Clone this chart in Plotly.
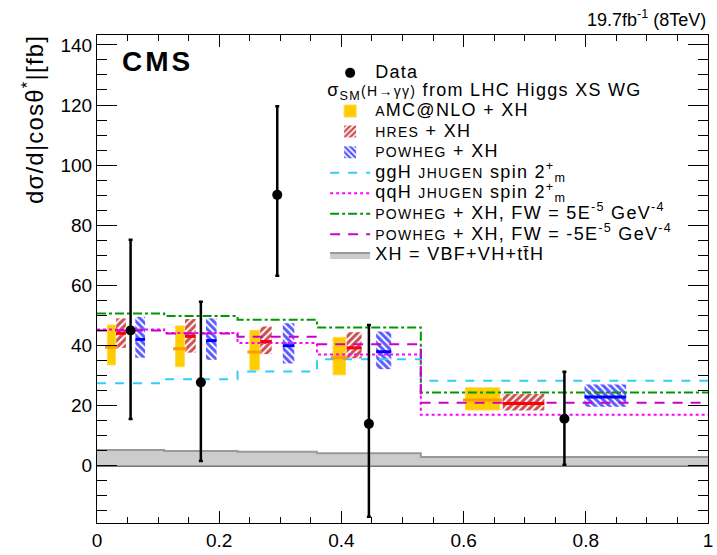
import plotly.graph_objects as go

# ---------------- data ----------------
edges = [0.0, 0.11, 0.23, 0.36, 0.53, 1.0]

data_y = [45.0, 27.7, 90.1, 13.9, 15.6]
data_err_up = [30.2, 26.8, 29.5, 32.9, 15.6]
data_err_dn = [29.5, 26.2, 26.9, 30.9, 15.3]

amc_c = [39.4, 38.9, 37.8, 35.9, 21.8]
amc_lo = [33.5, 32.9, 31.8, 30.2, 18.5]
amc_hi = [46.8, 46.5, 45.0, 42.7, 25.9]

hres_c = [44.0, 43.0, 41.3, 39.2, 20.7]
hres_lo = [39.2, 37.6, 37.1, 35.7, 18.3]
hres_hi = [49.0, 48.8, 46.3, 44.4, 23.8]

pow_c = [42.0, 41.6, 39.9, 37.9, 22.8]
pow_lo = [35.9, 35.2, 34.0, 32.1, 19.6]
pow_hi = [49.5, 49.0, 47.4, 44.6, 27.0]

ggh_spin2 = [27.4, 28.7, 31.3, 35.4, 28.2]
qqh_spin2 = [45.3, 44.1, 40.8, 37.0, 16.9]
fw_plus = [50.6, 49.8, 48.5, 46.0, 24.3]
fw_minus = [45.0, 44.0, 42.9, 40.4, 20.9]
xh = [5.2, 4.9, 4.6, 4.1, 2.9]

x_ticks = [0, 0.2, 0.4, 0.6, 0.8, 1]
y_ticks = [0, 20, 40, 60, 80, 100, 120, 140]

# ---------------- style constants ----------------
FONT = "Liberation Sans, Arial, Helvetica, sans-serif"
AMC_FRAC = (0.155, 0.275)
HRES_FRAC = (0.285, 0.43)
POW_FRAC = (0.57, 0.715)
W, H = 717, 555
ML, MR, MT, MB = 97, 4, 35, 23


def bins():
    return list(zip(edges[:-1], edges[1:]))


def box_geom(frac):
    xs, ws = [], []
    for lo, hi in bins():
        w = hi - lo
        xs.append(lo + (frac[0] + frac[1]) / 2 * w)
        ws.append((frac[1] - frac[0]) * w)
    return xs, ws


def segments(frac, vals, ext=0.0):
    X, Y = [], []
    for (lo, hi), v in zip(bins(), vals):
        w = hi - lo
        X += [lo + frac[0] * w - ext, lo + frac[1] * w + ext, None]
        Y += [v, v, None]
    return X, Y


def step(vals):
    return edges, list(vals) + [vals[-1]]


def leg(txt):
    return f"<span style='font-size:18px;letter-spacing:1.3px'>{txt}</span>"


def sc(txt):
    return f"<span style='font-size:14px'>{txt}</span>"


fig = go.Figure()

# gray XH band
sx, sy = step(xh)
fig.add_trace(go.Scatter(x=sx, y=sy, mode="lines", line_shape="hv",
                         fill="tozeroy", fillcolor="#cccccc",
                         line=dict(color="#999999", width=2),
                         name=leg("XH = VBF+VH+tt\u0304H"),
                         legend="legend2", legendrank=8))

# step lines
for vals, color, dash, name, rank in [
    (ggh_spin2, "#33ccff", "dash", "ggH " + sc("JHUGEN") + " spin 2<sup>+</sup><sub>m</sub>", 4),
    (qqh_spin2, "#ff00ff", "dot", "qqH " + sc("JHUGEN") + " spin 2<sup>+</sup><sub>m</sub>", 5),
    (fw_plus, "#009900", "dashdot", sc("POWHEG") + " + XH, FW = 5E<sup>-5</sup> GeV<sup>-4</sup>", 6),
    (fw_minus, "#cc00cc", "10px,8px", sc("POWHEG") + " + XH, FW = -5E<sup>-5</sup> GeV<sup>-4</sup>", 7),
]:
    sx, sy = step(vals)
    fig.add_trace(go.Scatter(x=sx, y=sy, mode="lines", line_shape="hv",
                             line=dict(color=color, width=2, dash=dash),
                             name=leg(name), legend="legend2", legendrank=rank))

# aMC@NLO boxes
bx, bw = box_geom(AMC_FRAC)
fig.add_trace(go.Bar(x=bx, width=bw, base=amc_lo,
                     y=[h - l for h, l in zip(amc_hi, amc_lo)],
                     marker=dict(color="#ffcc00", line=dict(color="#ffd84d", width=1)),
                     name=leg(sc("A") + "MC@NLO + XH"), legend="legend2", legendrank=1))
lx, ly = segments(AMC_FRAC, amc_c, ext=0.004)
fig.add_trace(go.Scatter(x=lx, y=ly, mode="lines", line=dict(color="#ff9900", width=3),
                         showlegend=False, hoverinfo="skip"))

# HRES boxes
bx, bw = box_geom(HRES_FRAC)
fig.add_trace(go.Bar(x=bx, width=bw, base=hres_lo,
                     y=[h - l for h, l in zip(hres_hi, hres_lo)],
                     marker=dict(color="rgba(0,0,0,0)", line=dict(width=0),
                                 pattern=dict(shape="/", fgcolor="#cc5050", fgopacity=1,
                                              bgcolor="rgba(255,255,255,0)",
                                              size=5, solidity=0.6, fillmode="overlay")),
                     name=leg(sc("HRES") + " + XH"), legend="legend2", legendrank=2))
lx, ly = segments(HRES_FRAC, hres_c)
fig.add_trace(go.Scatter(x=lx, y=ly, mode="lines", line=dict(color="#ff0000", width=3),
                         showlegend=False, hoverinfo="skip"))

# POWHEG boxes
bx, bw = box_geom(POW_FRAC)
fig.add_trace(go.Bar(x=bx, width=bw, base=pow_lo,
                     y=[h - l for h, l in zip(pow_hi, pow_lo)],
                     marker=dict(color="rgba(0,0,0,0)", line=dict(width=0),
                                 pattern=dict(shape="\\", fgcolor="#5a5aff", fgopacity=1,
                                              bgcolor="rgba(255,255,255,0)",
                                              size=5, solidity=0.6, fillmode="overlay")),
                     name=leg(sc("POWHEG") + " + XH"), legend="legend2", legendrank=3))
lx, ly = segments(POW_FRAC, pow_c)
fig.add_trace(go.Scatter(x=lx, y=ly, mode="lines", line=dict(color="#0000ff", width=3),
                         showlegend=False, hoverinfo="skip"))

# data
centers = [(lo + hi) / 2 for lo, hi in bins()]
fig.add_trace(go.Scatter(x=centers, y=data_y, mode="markers",
                         marker=dict(color="black", size=10),
                         error_y=dict(type="data", symmetric=False, array=data_err_up,
                                      arrayminus=data_err_dn, color="black",
                                      thickness=2.5, width=2),
                         name=leg("Data"), legend="legend", legendrank=1))

pw = W - ML - MR
ph = H - MT - MB


def px_x(p):
    return (p - ML) / pw


def px_y(p):
    return (H - MB - p) / ph


axis_common = dict(showline=True, linecolor="black", linewidth=1, mirror="ticks",
                   ticks="inside", tickcolor="black", showgrid=False,
                   ticklabeloverflow="allow",
                   tickfont=dict(family=FONT, size=19, color="black"))

fig.update_layout(
    width=W, height=H,
    margin=dict(l=ML, r=MR, t=MT, b=MB),
    paper_bgcolor="white", plot_bgcolor="white",
    barmode="overlay",
    font=dict(family=FONT, color="black"),
    xaxis=dict(range=[0, 1], tickvals=x_ticks, ticklen=12, tickwidth=1,
               zeroline=False,
               minor=dict(dtick=0.05, ticklen=6, ticks="inside", tickcolor="black"),
               **axis_common),
    yaxis=dict(range=[-19.1, 143.3], tickvals=y_ticks, ticklen=20, tickwidth=1,
               zeroline=True, zerolinecolor="#777777", zerolinewidth=1.5,
               minor=dict(dtick=5, tick0=0, ticklen=10, ticks="inside", tickcolor="black"),
               **axis_common),
    legend=dict(x=px_x(327), y=px_y(58), xanchor="left", yanchor="top",
                bgcolor="rgba(0,0,0,0)", borderwidth=0, itemwidth=40,
                font=dict(family=FONT, size=13.5, color="black"),
                traceorder="normal"),
    legend2=dict(x=px_x(327), y=px_y(79), xanchor="left", yanchor="top",
                 bgcolor="rgba(0,0,0,0)", borderwidth=0, itemwidth=40,
                 font=dict(family=FONT, size=13.5, color="black"),
                 traceorder="normal", tracegroupgap=0,
                 title=dict(text=leg("σ<sub>SM</sub><span style='font-size:14px'>(H→γγ)</span> from LHC Higgs XS WG"),
                            font=dict(family=FONT, size=13.5, color="black"))),
    showlegend=True,
    annotations=[
        dict(text="<b><span style='letter-spacing:3px'>CMS</span></b>", xref="paper", yref="paper",
             x=px_x(120), y=px_y(44), xanchor="left", yanchor="top", showarrow=False,
             font=dict(family=FONT, size=28, color="black")),
        dict(text="19.7fb<sup>-1</sup> (8TeV)", xref="paper", yref="paper",
             x=1.0, y=px_y(32), xanchor="right", yanchor="bottom", showarrow=False,
             font=dict(family=FONT, size=18, color="black")),
        dict(text="<span style='letter-spacing:1.2px'>dσ/d|cosθ<sup>*</sup>|[fb]</span>",
             xref="paper", yref="paper", x=px_x(32), y=px_y(33), xanchor="center",
             yanchor="top", textangle=-90, showarrow=False,
             font=dict(family=FONT, size=24, color="black")),
    ],
)

fig.write_html("out.html", config={"displayModeBar": False},
               post_script="document.body.style.margin='0';document.body.style.padding='0';")
